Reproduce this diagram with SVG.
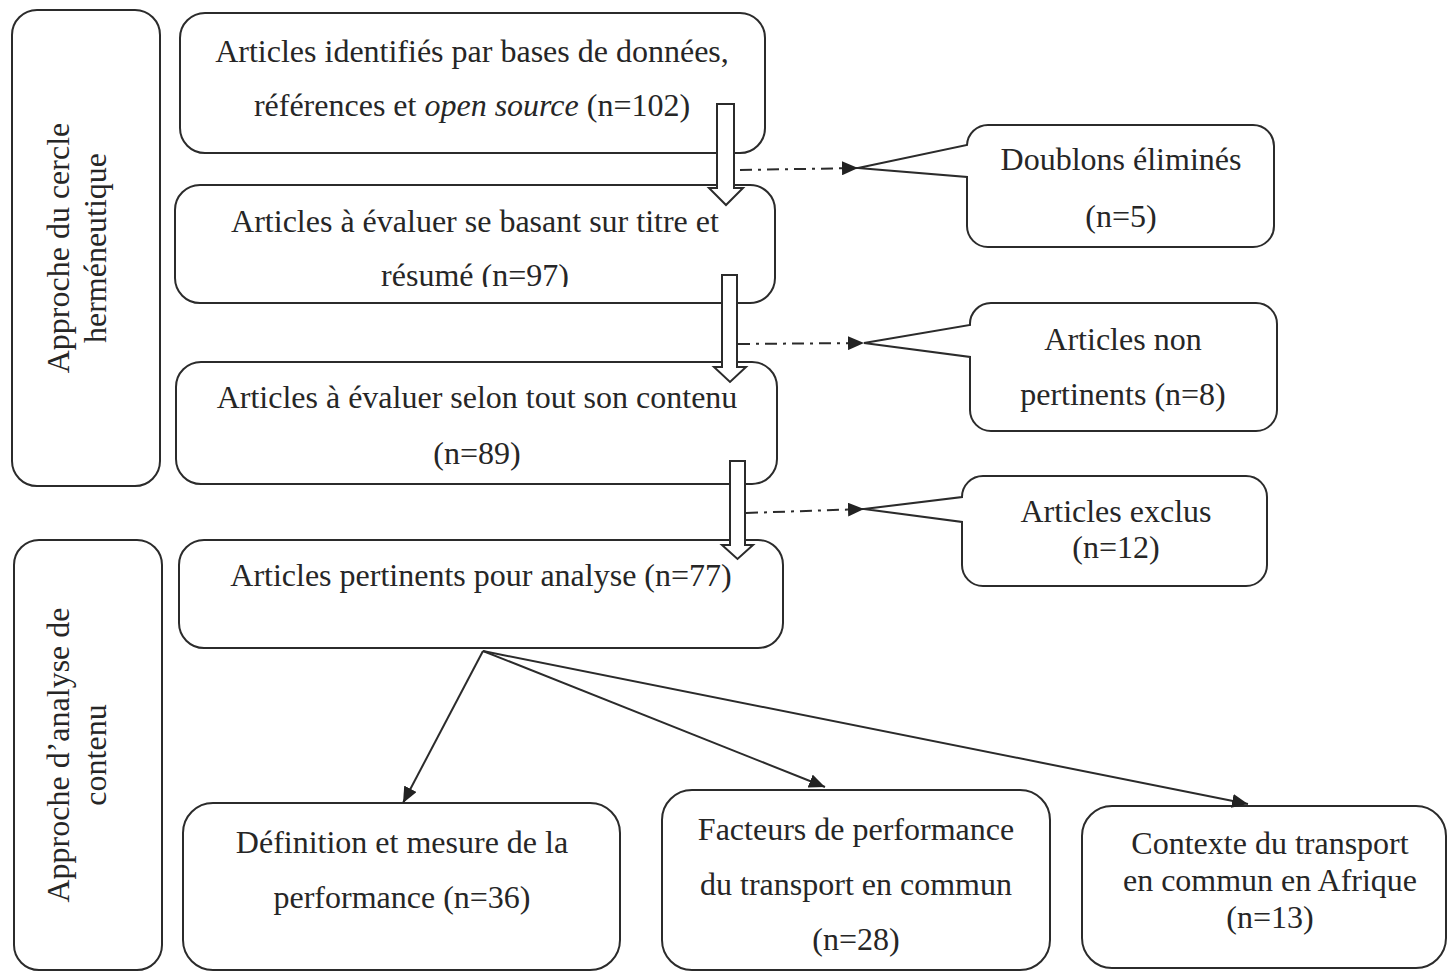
<svg xmlns="http://www.w3.org/2000/svg" width="1448" height="973" viewBox="0 0 1448 973">
<style>
.box{fill:#fff;stroke:#2b2b2b;stroke-width:2}
.blk{fill:#fff;stroke:#2b2b2b;stroke-width:2}
.t{font-family:"Liberation Serif","Times New Roman",serif;font-size:32px;fill:#262626;text-anchor:middle}
.dd{fill:none;stroke:#2b2b2b;stroke-width:2;stroke-dasharray:12,6,3,6}
.ln{fill:none;stroke:#2b2b2b;stroke-width:2}
</style>
<defs>
<marker id="tri" markerUnits="userSpaceOnUse" markerWidth="18" markerHeight="14" refX="16" refY="7" orient="auto">
<path d="M0,0 L16,7 L0,14 Z" fill="#222"/>
</marker>
<clipPath id="clipB2"><rect x="170" y="180" width="620" height="107"/></clipPath>
</defs>

<g id="side1">
<rect class="box" x="12" y="10" width="148" height="476" rx="25"/>
<text class="t" transform="translate(69,248) rotate(-90)">Approche du cercle</text>
<text class="t" transform="translate(106,248) rotate(-90)">herméneutique</text>
</g>
<g id="side2">
<rect class="box" x="14" y="540" width="148" height="430" rx="25"/>
<text class="t" transform="translate(69,755) rotate(-90)">Approche d’analyse de</text>
<text class="t" transform="translate(106,755) rotate(-90)">contenu</text>
</g>

<g id="b1">
<rect class="box" x="180" y="13" width="585" height="140" rx="25"/>
<text class="t" x="472" y="62">Articles identifiés par bases de données,</text>
<text class="t" x="472" y="116">références et <tspan font-style="italic">open source</tspan> (n=102)</text>
</g>
<g id="b2">
<rect class="box" x="175" y="185" width="600" height="118" rx="25"/>
<text class="t" x="475" y="232">Articles à évaluer se basant sur titre et</text>
<text class="t" x="475" y="286" clip-path="url(#clipB2)">résumé (n=97)</text>
</g>
<g id="b3">
<rect class="box" x="176" y="362" width="601" height="122" rx="25"/>
<text class="t" x="477" y="408">Articles à évaluer selon tout son contenu</text>
<text class="t" x="477" y="464">(n=89)</text>
</g>
<g id="b4">
<rect class="box" x="179" y="540" width="604" height="108" rx="25"/>
<text class="t" x="481" y="586">Articles pertinents pour analyse (n=77)</text>
</g>

<g id="c1">
<path class="box" d="M988,125 H1253 A21,21 0 0 1 1274,146 V226 A21,21 0 0 1 1253,247 H988 A21,21 0 0 1 967,226 V177 L858,168 L967,145 A21,21 0 0 1 988,125 Z"/>
<text class="t" x="1121" y="170">Doublons éliminés</text>
<text class="t" x="1121" y="227">(n=5)</text>
</g>
<g id="c2">
<path class="box" d="M991,303 H1256 A21,21 0 0 1 1277,324 V410 A21,21 0 0 1 1256,431 H991 A21,21 0 0 1 970,410 V357 L864,343 L970,325 A21,21 0 0 1 991,303 Z"/>
<text class="t" x="1123" y="350">Articles non</text>
<text class="t" x="1123" y="405">pertinents (n=8)</text>
</g>
<g id="c3">
<path class="box" d="M983,476 H1246 A21,21 0 0 1 1267,497 V565 A21,21 0 0 1 1246,586 H983 A21,21 0 0 1 962,565 V522 L864,509 L962,497 A21,21 0 0 1 983,476 Z"/>
<text class="t" x="1116" y="522">Articles exclus</text>
<text class="t" x="1116" y="558">(n=12)</text>
</g>

<g id="b5">
<rect class="box" x="183" y="803" width="437" height="167" rx="30"/>
<text class="t" x="402" y="853">Définition et mesure de la</text>
<text class="t" x="402" y="908">performance (n=36)</text>
</g>
<g id="b6">
<rect class="box" x="662" y="790" width="388" height="180" rx="30"/>
<text class="t" x="856" y="840">Facteurs de performance</text>
<text class="t" x="856" y="895">du transport en commun</text>
<text class="t" x="856" y="950">(n=28)</text>
</g>
<g id="b7">
<rect class="box" x="1082" y="806" width="364" height="162" rx="30"/>
<text class="t" x="1270" y="854">Contexte du transport</text>
<text class="t" x="1270" y="891">en commun en Afrique</text>
<text class="t" x="1270" y="928">(n=13)</text>
</g>

<g id="connectors">
<polygon class="blk" points="717,104 734,104 734,188 743,188 726,205 709,188 717,188"/>
<polygon class="blk" points="722,275 737,275 737,367 746,367 730,382 714,367 722,367"/>
<polygon class="blk" points="730,461 745,461 745,545 753,545 737.5,559 722,545 730,545"/>
<path class="dd" d="M740,170 L858,168" marker-end="url(#tri)"/>
<path class="dd" d="M738,344 L864,343" marker-end="url(#tri)"/>
<path class="dd" d="M746,513 L864,509" marker-end="url(#tri)"/>
<path class="ln" d="M483,651 L403,803" marker-end="url(#tri)"/>
<path class="ln" d="M483,651 L825,787" marker-end="url(#tri)"/>
<path class="ln" d="M483,651 L1248,804" marker-end="url(#tri)"/>
</g>
</svg>
